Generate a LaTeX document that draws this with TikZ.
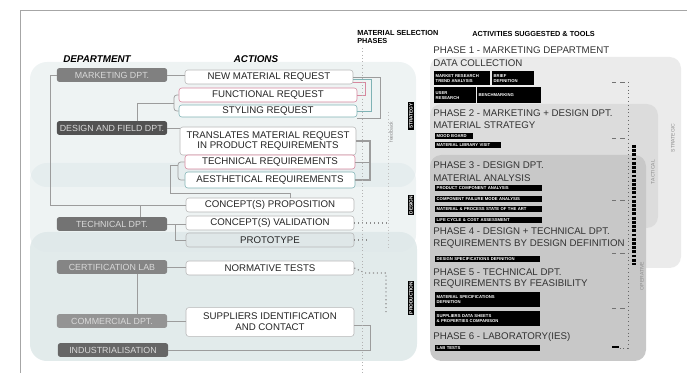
\documentclass[tikz,border=0pt]{standalone}
\usepackage{fontspec}
\setmainfont{Liberation Sans}
\usetikzlibrary{positioning}
\definecolor{bandcol}{HTML}{DDE7E8}
\definecolor{lnecol}{HTML}{9C9C9C}
\definecolor{actcol}{HTML}{B8B8B8}
\definecolor{pinkcol}{HTML}{D7879E}
\definecolor{tealcol}{HTML}{80B3B5}
\definecolor{protofill}{HTML}{DFE7E8}
\definecolor{panelA}{HTML}{EBEBEB}
\definecolor{panelB}{HTML}{DCDCDC}
\definecolor{panelC}{HTML}{C8C8C8}
\tikzset{
    dept/.style={rectangle, rounded corners=1.5pt, fill=#1, minimum width=2.75cm, minimum height=0.34cm, inner sep=0.5pt, text=white!85!black, font=\fontsize{6.3}{7}\selectfont},
    act/.style={rectangle, rounded corners=2pt, draw=actcol, fill=white, minimum width=4.2cm, minimum height=0.35cm, inner sep=0.5pt, align=center, text=black!85, font=\fontsize{6.9}{7.6}\selectfont},
    con/.style={draw=lnecol, line width=0.5pt},
    fback/.style={draw=black!45, dotted, line width=0.8pt},
    phase/.style={anchor=west, inner sep=0pt, text=black!80, font=\fontsize{6.9}{8}\selectfont},
    tool/.style={anchor=north west, fill=black, text=white, inner sep=1pt, align=left, text width=#1, font=\fontsize{3}{3.5}\selectfont\bfseries},
    head/.style={font=\fontsize{7}{8}\selectfont\bfseries\itshape},
    smallhead/.style={anchor=north west, inner sep=0pt, align=left, font=\fontsize{5.2}{5.8}\selectfont\bfseries},
    steplabel/.style={rotate=90, inner sep=0.6pt, fill=black, text=white, font=\fontsize{3.4}{4}\selectfont\bfseries},
    levellabel/.style={rotate=90, inner sep=0pt, text=black!45, font=\fontsize{3.6}{4}\selectfont}
}

\begin{document}
\begin{tikzpicture}[x=0.025cm, y=-0.025cm]
    \useasboundingbox (0,0) rectangle (687,373);
    % frame
    \draw[black!35, line width=0.6pt] (20,373) -- (20,10) -- (687,10);

    % bands behind departments and actions
    \fill[bandcol, fill opacity=0.5, rounded corners=12pt] (30,62) rectangle (416,187);
    \fill[bandcol, fill opacity=0.5, rounded corners=12pt] (30,163) rectangle (416,252);
    \fill[bandcol, fill opacity=0.85, rounded corners=12pt] (30,232) rectangle (417,361);

    % right panel
    \fill[panelA, rounded corners=8pt] (430,57) rectangle (681,268);
    \fill[panelB, rounded corners=8pt] (430,104) rectangle (658,228);
    \fill[panelC, rounded corners=8pt] (430,155) rectangle (646,361);

    % headers
    \node[head] (hdept) at (97,59) {DEPARTMENT};
    \node[head] (hact) at (256,59) {ACTIONS};
    \node[smallhead] (hphase) at (357,30) {MATERIAL SELECTION\\PHASES};
    \node[smallhead] (htool) at (472,31) {ACTIVITIES SUGGESTED \& TOOLS};

    % departments
    \node[dept=black!50] (mkt) at (112,75) {MARKETING DPT.};
    \node[dept=black!68] (des) at (112,128) {DESIGN AND FIELD DPT.};
    \node[dept=black!55] (tec) at (112,224) {TECHNICAL DPT.};
    \node[dept=black!48] (cer) at (112,267) {CERTIFICATION LAB};
    \node[dept=black!42] (com) at (112,321) {COMMERCIAL DPT.};
    \node[dept=black!60] (ind) at (113,350) {INDUSTRIALISATION};

    % actions
    \node[act] (nmr) at (269,77) {NEW MATERIAL REQUEST};
    \node[act, draw=pinkcol, minimum width=4.45cm] (fun) at (268,95) {FUNCTIONAL REQUEST};
    \node[act, draw=tealcol, minimum width=4.45cm, minimum height=0.3cm] (sty) at (268,111) {STYLING REQUEST};
    \node[act, minimum width=4.4cm, minimum height=0.7cm] (tra) at (268,141) {TRANSLATES MATERIAL REQUEST\\IN PRODUCT REQUIREMENTS};
    \node[act, draw=pinkcol, minimum width=4.25cm] (treq) at (270,162) {TECHNICAL REQUIREMENTS};
    \node[act, draw=tealcol, minimum width=4.25cm, minimum height=0.4cm] (aes) at (270,180) {AESTHETICAL REQUIREMENTS};
    \node[act] (cpr) at (270,205) {CONCEPT(S) PROPOSITION};
    \node[act] (cva) at (270,223) {CONCEPT(S) VALIDATION};
    \node[act, fill=protofill] (pro) at (270,240) {PROTOTYPE};
    \node[act] (nor) at (270,268) {NORMATIVE TESTS};
    \node[act, minimum height=0.72cm] (sup) at (270,322) {SUPPLIERS IDENTIFICATION\\AND CONTACT};

    % left connectors
    \draw[con] (mkt.east) -- (nmr.west |- mkt.east);
    \draw[con] (mkt.west) -- (50,75) -- (50,205) -- (cpr.west);
    \draw[con] (tec.north -| 140,0) -- (140,205);
    \draw[con] (des.north -| 137,0) -- (137,103) -- (174,103);
    \draw[con, rounded corners=2pt] (fun.west) -| (174,103) |- (sty.west);
    \draw[con] (des.east) -- (des.east -| tra.west);
    \draw[con, rounded corners=2pt] (treq.west) -| (178,171) |- (aes.west);
    \draw[con] (178,165) -- (170,165) -- (170,193) -- (290,193) -- (290,0 |- cpr.north);
    \draw[con] (tec.east) -- (cva.west |- tec.east);
    \draw[con] (tec.east) -- (175,224) |- (pro.west);
    \draw[con] (cer.east) -- (nor.west |- cer.east);
    \draw[con] (cer.south -| 137,0) -- (com.north -| 137,0);
    \draw[con] (com.east) -- (sup.west |- com.east);

    % right connectors
    \draw[con] (nmr.east) -- (380,77) -- (380,118) -- (sty.east |- 0,118);
    \draw[pinkcol, line width=0.5pt] (fun.east) -| (365,82) -- (nmr.east |- 0,82);
    \draw[tealcol, line width=0.5pt] (sty.east) -| (371,79) -- (nmr.east |- 0,79);
    \draw[lnecol, line width=1.3pt] (tra.east) -- (370,141) -- (370,180) -- (aes.east);
    \draw[con] (370,162) -- (treq.east);
    \draw[con] (ind.east) -- (370,350) -- (370,325) -- (sup.east |- 0,325);
    \draw[fback] (cva.east) -- (386,223);
    \draw[fback] (pro.east) -- (368,240);
    \draw[fback] (nor.east) -- (365,273) -- (386,273) -- (386,315);
    \draw[black!30, dotted] (362,48) -- (362,373);
    \draw[black!25, dotted] (388,112) -- (388,250);
    \node[levellabel] (fb) at (391,132) {feedback};

    % phase labels
    \node[steplabel] (s1) at (411,116) {STRATEGY};
    \node[steplabel] (s2) at (411,205) {DESIGN};
    \node[steplabel] (s3) at (411,298) {PRODUCTION};

    % phases
    \node[phase] (p1) at (433,50) {PHASE 1 - MARKETING DEPARTMENT};
    \node[phase] (p1s) at (433,63) {DATA COLLECTION};
    \node[tool=1.33cm, minimum height=0.35cm] (t11) at (434,71) {MARKET RESEARCH\\TREND ANALYSIS};
    \node[tool=0.96cm, minimum height=0.35cm] (t12) at (492,71) {BRIEF\\DEFINITION};
    \node[tool=0.96cm, minimum height=0.4cm] (t13) at (434,87) {USER\\RESEARCH};
    \node[tool=1.53cm, minimum height=0.4cm] (t14) at (477,87) {BENCHMARKING};

    \node[phase] (p2) at (433,113) {PHASE 2 - MARKETING + DESIGN DPT.};
    \node[phase] (p2s) at (433,125) {MATERIAL STRATEGY};
    \node[tool=0.86cm] (t21) at (435,133) {MOOD BOARD};
    \node[tool=1.56cm] (t22) at (435,142) {MATERIAL LIBRARY VISIT};

    \node[phase] (p3) at (433,165) {PHASE 3 - DESIGN DPT.};
    \node[phase] (p3s) at (433,178) {MATERIAL ANALYSIS};
    \node[tool=2.6cm] (t31) at (435,185) {PRODUCT COMPONENT ANALYSIS};
    \node[tool=2.6cm] (t32) at (435,195.5) {COMPONENT FAILURE MODE ANALYSIS};
    \node[tool=2.6cm] (t33) at (435,206) {MATERIAL \& PROCESS STATE OF THE ART};
    \node[tool=2.6cm] (t34) at (435,216.5) {LIFE CYCLE \& COST ASSESSMENT};

    \node[phase] (p4) at (433,231) {PHASE 4 - DESIGN + TECHNICAL DPT.};
    \node[phase] (p4s) at (433,244) {REQUIREMENTS BY DESIGN DEFINITION};
    \node[tool=2.55cm] (t41) at (435,256) {DESIGN SPECIFICATIONS DEFINITION};

    \node[phase] (p5) at (433,272) {PHASE 5 - TECHNICAL DPT.};
    \node[phase] (p5s) at (433,284) {REQUIREMENTS BY FEASIBILITY};
    \node[tool=2.55cm, minimum height=0.37cm] (t51) at (435,292) {MATERIAL SPECIFICATIONS\\DEFINITION};
    \node[tool=2.55cm, minimum height=0.37cm] (t52) at (435,311) {SUPPLIERS DATA SHEETS\\\& PROPERTIES COMPARISON};

    \node[phase] (p6) at (433,337) {PHASE 6 - LABORATORY(IES)};
    \node[tool=2.55cm] (t61) at (435,345) {LAB TESTS};

    % timeline
    \draw[black!60, dotted, line width=0.7pt] (628,82) -- (628,348) -- (618,348);
    \foreach \ty in {82,138,200,253,308}
        \draw[black!55, dashed, line width=0.4pt] (612,\ty) -- (625,\ty);
    \draw[black, line width=1.2pt] (612,347) -- (619,347);
    \draw[black, line width=2.2pt, dash pattern=on 2pt off 1pt] (634,145) -- (634,265);

    % decision levels
    \node[levellabel] (lv1) at (673,138) {STRATEGIC};
    \node[levellabel] (lv2) at (653,172) {TACTICAL};
    \node[levellabel] (lv3) at (642,276) {OPERATIVE};
\end{tikzpicture}
\end{document}
